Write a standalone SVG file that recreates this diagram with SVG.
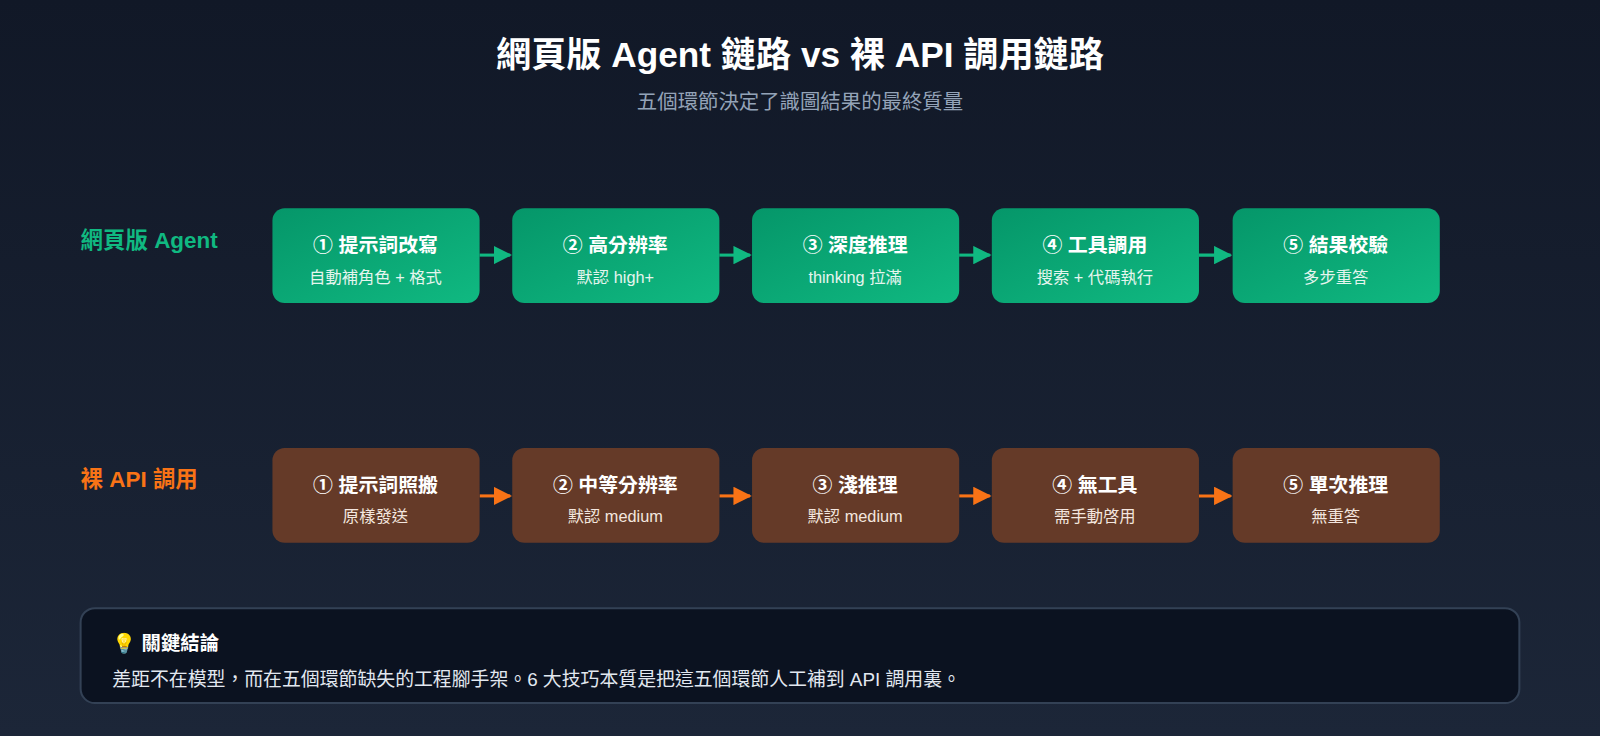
<svg xmlns="http://www.w3.org/2000/svg" width="1600" height="736" viewBox="0 0 1600 736">
<defs>
<linearGradient id="bg" x1="0" y1="0" x2="0" y2="1"><stop offset="0" stop-color="#111827"/><stop offset="1" stop-color="#1c2638"/></linearGradient>
<linearGradient id="gr" x1="0" y1="0" x2="1" y2="1"><stop offset="0" stop-color="#059669"/><stop offset="1" stop-color="#10b981"/></linearGradient>
<marker id="ag" viewBox="0 0 10 10" refX="9" refY="5" markerWidth="6" markerHeight="6" orient="auto"><path d="M0,0L10,5L0,10z" fill="#10b981"/></marker>
<marker id="ao" viewBox="0 0 10 10" refX="9" refY="5" markerWidth="6" markerHeight="6" orient="auto"><path d="M0,0L10,5L0,10z" fill="#f97316"/></marker>
</defs>
<style>
text{font-family:"Liberation Sans","Noto Sans CJK TC",sans-serif}
.g rect{fill:url(#gr)}
.b rect{fill:#653a28}
.t{fill:#fff;font-size:19.5px;font-weight:bold;text-anchor:middle}
.s{fill:#e5f5ee;font-size:16px;text-anchor:middle}
.b .s{fill:#f3e6df}
.cg{stroke:#10b981;stroke-width:3;fill:none}
.co{stroke:#f97316;stroke-width:3;fill:none}
</style>
<rect width="1600" height="736" fill="url(#bg)"/>
<g transform="scale(1.0204)">
<text x="784" y="66" fill="#fff" font-size="34.5" font-weight="bold" text-anchor="middle">網頁版 Agent 鏈路 vs 裸 API 調用鏈路</text>
<text x="784" y="107" fill="#94a3b8" font-size="20" text-anchor="middle">五個環節決定了識圖結果的最終質量</text>
<text x="79" y="243" fill="#10b981" font-size="22" font-weight="bold">網頁版 Agent</text>
<text x="79" y="477" fill="#f97316" font-size="22" font-weight="bold">裸 API 調用</text>
<g id="connectors">
<path class="cg" d="M470 250H500" marker-end="url(#ag)"/>
<path class="cg" d="M705 250H735" marker-end="url(#ag)"/>
<path class="cg" d="M940 250H970" marker-end="url(#ag)"/>
<path class="cg" d="M1175 250H1206" marker-end="url(#ag)"/>
<path class="co" d="M470 486H500" marker-end="url(#ao)"/>
<path class="co" d="M705 486H735" marker-end="url(#ao)"/>
<path class="co" d="M940 486H970" marker-end="url(#ao)"/>
<path class="co" d="M1175 486H1206" marker-end="url(#ao)"/>
</g>
<g id="a1" class="g"><rect x="267" y="204" width="203" height="93" rx="12"/><text class="t" x="368" y="247">① 提示詞改寫</text><text class="s" x="368" y="277">自動補角色 + 格式</text></g>
<g id="a2" class="g"><rect x="502" y="204" width="203" height="93" rx="12"/><text class="t" x="603" y="247">② 高分辨率</text><text class="s" x="603" y="277">默認 high+</text></g>
<g id="a3" class="g"><rect x="737" y="204" width="203" height="93" rx="12"/><text class="t" x="838" y="247">③ 深度推理</text><text class="s" x="838" y="277">thinking 拉滿</text></g>
<g id="a4" class="g"><rect x="972" y="204" width="203" height="93" rx="12"/><text class="t" x="1073" y="247">④ 工具調用</text><text class="s" x="1073" y="277">搜索 + 代碼執行</text></g>
<g id="a5" class="g"><rect x="1208" y="204" width="203" height="93" rx="12"/><text class="t" x="1309" y="247">⑤ 結果校驗</text><text class="s" x="1309" y="277">多步重答</text></g>
<g id="b1" class="b"><rect x="267" y="439" width="203" height="93" rx="12"/><text class="t" x="368" y="482">① 提示詞照搬</text><text class="s" x="368" y="512">原樣發送</text></g>
<g id="b2" class="b"><rect x="502" y="439" width="203" height="93" rx="12"/><text class="t" x="603" y="482">② 中等分辨率</text><text class="s" x="603" y="512">默認 medium</text></g>
<g id="b3" class="b"><rect x="737" y="439" width="203" height="93" rx="12"/><text class="t" x="838" y="482">③ 淺推理</text><text class="s" x="838" y="512">默認 medium</text></g>
<g id="b4" class="b"><rect x="972" y="439" width="203" height="93" rx="12"/><text class="t" x="1073" y="482">④ 無工具</text><text class="s" x="1073" y="512">需手動啓用</text></g>
<g id="b5" class="b"><rect x="1208" y="439" width="203" height="93" rx="12"/><text class="t" x="1309" y="482">⑤ 單次推理</text><text class="s" x="1309" y="512">無重答</text></g>
<g id="summary">
<rect x="79" y="596" width="1410" height="93" rx="14" fill="#0b1220" stroke="#334155" stroke-width="2"/>
<text x="110" y="637" fill="#fff" font-size="19" font-weight="bold">💡  關鍵結論</text>
<text x="110" y="672" fill="#e2e8f0" font-size="18.5">差距不在模型，而在五個環節缺失的工程腳手架。6 大技巧本質是把這五個環節人工補到 API 調用裏。</text>
</g>
</g>
</svg>
